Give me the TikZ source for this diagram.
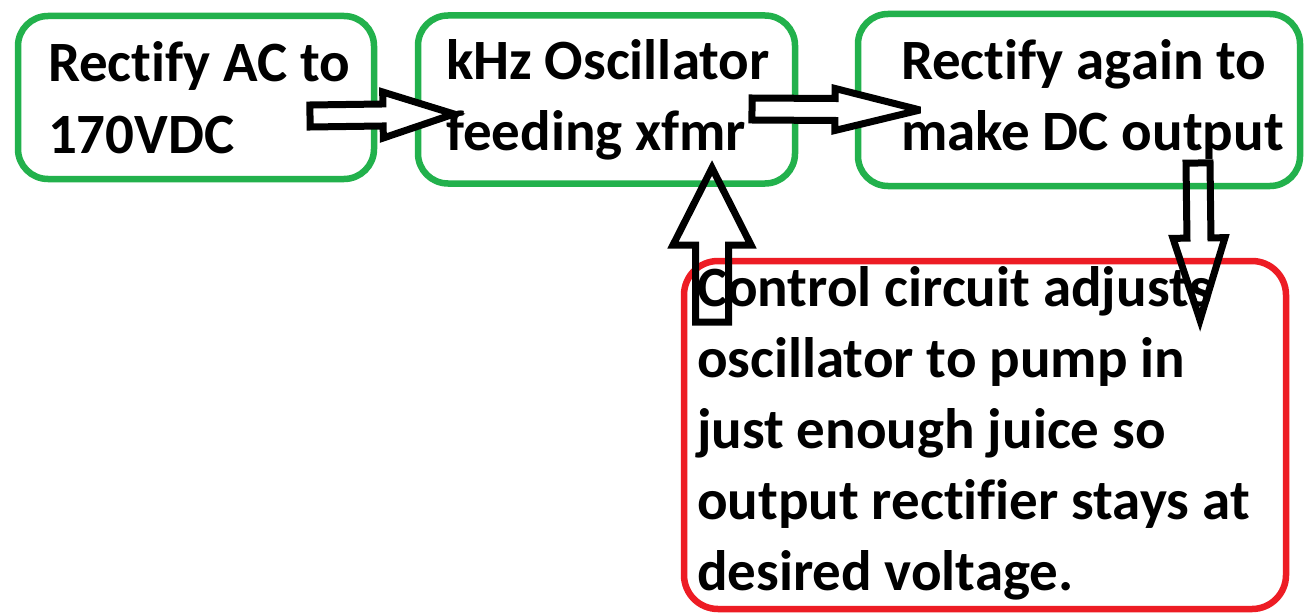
\documentclass[tikz,border=0pt]{standalone}
\usepackage{fontspec}
\setmainfont{Carlito}[Ligatures={NoCommon,NoContextual}]
\usetikzlibrary{calc}
\definecolor{paintgreen}{RGB}{34,177,76}
\definecolor{paintred}{RGB}{237,28,36}
\newcommand\blockarrow[6]{%
  \coordinate (ba-h) at ($(#3)!#6!(#2)$);
  \draw[#1] ($(#2)!#4!90:(#3)$) -- ($(ba-h)!#4!90:(#3)$) -- ($(ba-h)!#5!90:(#3)$)
    -- (#3) -- ($(ba-h)!#5!-90:(#3)$) -- ($(ba-h)!#4!-90:(#3)$) -- ($(#2)!#4!-90:(#3)$) -- cycle;}
\begin{document}
\begin{tikzpicture}[x=1pt,y=-1pt,
  greenbox/.style={draw=paintgreen,line width=6.5pt,rounded corners=30pt,inner sep=0pt},
  redbox/.style={draw=paintred,line width=6.5pt,rounded corners=34pt,inner sep=0pt},
  label/.style={inner sep=0pt,outer sep=0pt,anchor=base west,align=left,
    font=\fontsize{57}{71}\selectfont\bfseries},
  blockarr/.style={draw=black,line width=7pt,line join=miter,miter limit=4},
  blockarrw/.style={blockarr,fill=white}]
\useasboundingbox (0,0) rectangle (1305,615);
\fill[white] (0,0) rectangle (1305,615);
% boxes
\node[greenbox,minimum width=356pt,minimum height=163pt] (b1) at (196,97.5) {};
\node[greenbox,minimum width=377pt,minimum height=168pt] (b2) at (606.5,99.5) {};
\node[greenbox,minimum width=442pt,minimum height=172pt] (b3) at (1079,100) {};
\node[redbox,minimum width=602pt,minimum height=348pt] (b4) at (985,435) {};
% arrow ends
\coordinate (a1t) at (310,116);
\coordinate (a1h) at (454,114);
\coordinate (a2t) at (752,109);
\coordinate (a2h) at (920,110);
\coordinate (a3t) at (712,322);
\coordinate (a3h) at (712,168);
\coordinate (a4t) at (1198,163);
\coordinate (a4h) at (1200,320);
\blockarrow{blockarrw}{a1t}{a1h}{11pt}{23pt}{71pt}
\blockarrow{blockarrw}{a2t}{a2h}{11pt}{21pt}{85pt}
\blockarrow{blockarr}{a3t}{a3h}{16.5pt}{39pt}{77pt}
\blockarrow{blockarr}{a4t}{a4h}{12pt}{26pt}{82pt}
% texts (anchor = baseline of the last line)
\node[label] (t1) at (48,153) {Rectify AC to\\170VDC};
\node[label] (t2) at (446,150) {kHz Oscillator\\feeding xfmr};
\node[label] (t3) at (901,150) {Rectify again to\\make DC output};
\node[label] (t4) at (697,590) {Control circuit adjusts\\oscillator to pump in\\just enough juice so\\output rectifier stays at\\desired voltage.};
\end{tikzpicture}
\end{document}
